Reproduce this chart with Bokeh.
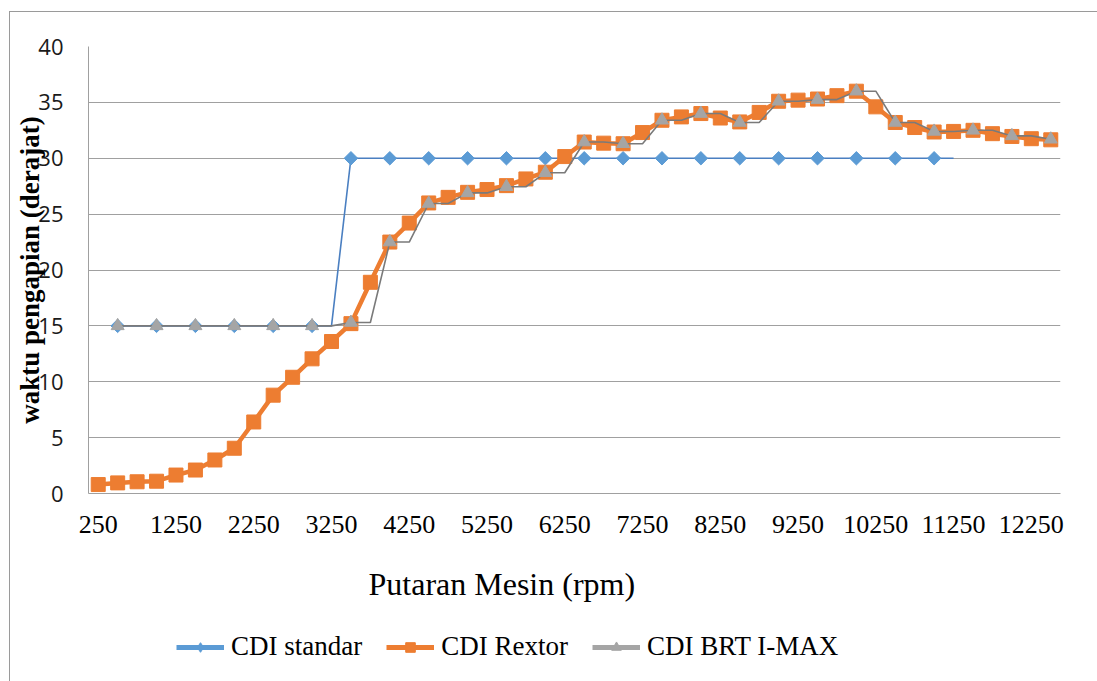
import math
from bokeh.plotting import figure
from bokeh.layouts import column
from bokeh.models import Range1d, FixedTicker, Legend, LegendItem, Title
from bokeh.embed import file_html
from bokeh.resources import INLINE

NaN = float("nan")

# categories (engine speed, rpm)
rpm = [250, 500, 750, 1000, 1250, 1500, 1750, 2000, 2250, 2500,
       2750, 3000, 3250, 3500, 3750, 4000, 4250, 4500, 4750, 5000,
       5250, 5500, 5750, 6000, 6250, 6500, 6750, 7000, 7250, 7500,
       7750, 8000, 8250, 8500, 8750, 9000, 9250, 9500, 9750, 10000,
       10250, 10500, 10750, 11000, 11250, 11500, 11750, 12000, 12250, 12500]

# tick labels shown on the category axis (every 4th category)
tick_labels = ["250", "1250", "2250", "3250", "4250", "5250", "6250",
               "7250", "8250", "9250", "10250", "11250", "12250"]

# ignition timing (degrees)
cdi_standar = [NaN, 15, 15, 15, 15, 15, 15, 15, 15, 15,
               15, 15, 15, 30, 30, 30, 30, 30, 30, 30,
               30, 30, 30, 30, 30, 30, 30, 30, 30, 30,
               30, 30, 30, 30, 30, 30, 30, 30, 30, 30,
               30, 30, 30, 30, 30, NaN, NaN, NaN, NaN, NaN]

cdi_rextor = [0.8, 0.95, 1.05, 1.1, 1.65, 2.1, 3.0, 4.05, 6.4, 8.8,
              10.4, 12.05, 13.6, 15.2, 18.9, 22.5, 24.2, 26.0, 26.5, 26.95,
              27.2, 27.55, 28.15, 28.75, 30.15, 31.45, 31.35, 31.3, 32.3, 33.4,
              33.7, 34.0, 33.6, 33.25, 34.1, 35.1, 35.2, 35.3, 35.6, 36.0,
              34.6, 33.2, 32.75, 32.35, 32.4, 32.5, 32.2, 31.95, 31.75, 31.65]

cdi_brt = [NaN, 15, 15, 15, 15, 15, 15, 15, 15, 15,
           15, 15, 15, 15.3, 15.3, 22.5, 22.5, 25.95, 25.95, 26.9,
           26.9, 27.45, 27.45, 28.7, 28.7, 31.45, 31.45, 31.3, 31.3, 33.4,
           33.4, 34.0, 34.0, 33.2, 33.2, 35.1, 35.1, 35.25, 35.25, 36.0,
           36.0, 33.2, 33.2, 32.4, 32.4, 32.5, 32.5, 32.0, 32.0, 31.7]

BLUE_LINE = "#4a7fc1"
BLUE = "#5b9bd5"
ORANGE = "#ed7d31"
GRAY = "#a5a5a5"
GRAY_LINE = "#7a7a7a"
GRID = "#a0a0a0"

pos = list(range(len(rpm)))
tick_pos = [rpm.index(int(t)) for t in tick_labels]

p = figure(width=1087, height=620, output_backend="svg", toolbar_location=None,
           x_range=Range1d(-0.5, len(rpm) - 0.5), y_range=Range1d(0, 40),
           min_border_left=78, min_border_right=37, min_border_top=34,
           min_border_bottom=139)
p.outline_line_color = None
p.background_fill_color = "white"
p.border_fill_color = "white"

# axes
p.xaxis.ticker = FixedTicker(ticks=tick_pos)
p.xaxis.major_label_overrides = {i: t for i, t in zip(tick_pos, tick_labels)}
p.xaxis.major_label_text_font = "Liberation Serif"
p.xaxis.major_label_text_font_size = "26px"
p.xaxis.major_label_text_color = "black"
p.xaxis.major_label_standoff = 16
p.xaxis.major_tick_line_color = None
p.xaxis.minor_tick_line_color = None
p.xaxis.axis_line_color = GRID

p.yaxis.ticker = FixedTicker(ticks=[0, 5, 10, 15, 20, 25, 30, 35, 40])
p.yaxis.major_label_text_font = "Open Sans"
p.yaxis.major_label_text_font_size = "22px"
p.yaxis.major_label_text_color = "#1a1a1a"
p.yaxis.major_label_standoff = 19
p.yaxis.major_tick_line_color = None
p.yaxis.minor_tick_line_color = None
p.yaxis.axis_line_color = GRID
p.yaxis.axis_label = "waktu pengapian (derajat)"
p.yaxis.axis_label_text_font = "Liberation Serif"
p.yaxis.axis_label_text_font_style = "bold"
p.yaxis.axis_label_text_font_size = "27px"
p.yaxis.axis_label_text_color = "black"
p.yaxis.axis_label_standoff = -10

p.xgrid.grid_line_color = None
p.ygrid.ticker = FixedTicker(ticks=[5, 10, 15, 20, 25, 30, 35, 40])
p.ygrid.grid_line_color = GRID
p.ygrid.grid_line_width = 1

# series
p.line(pos, cdi_standar, line_color=BLUE_LINE, line_width=1.6)
p.scatter(pos[1::2], cdi_standar[1::2], marker="square", angle=math.pi / 4,
          size=9.5, fill_color=BLUE, line_color=BLUE)

p.line(pos, cdi_rextor, line_color=ORANGE, line_width=4.5)
p.scatter(pos, cdi_rextor, marker="square", size=14, fill_color=ORANGE, line_color=ORANGE)

p.line(pos, cdi_brt, line_color=GRAY_LINE, line_width=1.6)
p.scatter(pos[1::2], cdi_brt[1::2], marker="triangle", size=13, fill_color=GRAY, line_color=GRAY)

xtitle = Title(text="Putaran Mesin  (rpm)", align="left", offset=280,
               text_font="Liberation Serif", text_font_size="32px",
               text_font_style="normal", text_color="black", standoff=57)
p.add_layout(xtitle, "below")

# legend strip below the chart
p2 = figure(width=1087, height=49, output_backend="svg", toolbar_location=None,
            x_range=Range1d(0, 1), y_range=Range1d(0, 1),
            x_axis_type=None, y_axis_type=None,
            min_border_left=0, min_border_right=0, min_border_top=0, min_border_bottom=0)
p2.outline_line_color = None
p2.grid.visible = False
p2.background_fill_color = "white"
p2.border_fill_color = "white"

lb1 = p2.line([NaN], [NaN], line_color=BLUE, line_width=5)
lb2 = p2.scatter([NaN], [NaN], marker="diamond", size=15, fill_color=BLUE, line_color=BLUE)
lo1 = p2.line([NaN], [NaN], line_color=ORANGE, line_width=5)
lo2 = p2.scatter([NaN], [NaN], marker="square", size=14, fill_color=ORANGE, line_color=ORANGE)
lg1 = p2.line([NaN], [NaN], line_color=GRAY, line_width=5)
lg2 = p2.scatter([NaN], [NaN], marker="triangle", size=15, fill_color=GRAY, line_color=GRAY)

legend = Legend(items=[LegendItem(label="CDI standar", renderers=[lb1, lb2]),
                       LegendItem(label="CDI Rextor", renderers=[lo1, lo2]),
                       LegendItem(label="CDI BRT I-MAX", renderers=[lg1, lg2])],
                orientation="horizontal", location=(88, 19),
                label_text_font="Liberation Serif", label_text_font_size="27px",
                label_text_color="black", glyph_width=48, glyph_height=24,
                label_standoff=7, spacing=24, padding=0, margin=0,
                border_line_color=None, background_fill_alpha=0)
p2.add_layout(legend, "center")

layout = column(p, p2, spacing=0,
                styles={"margin-left": "9px", "margin-top": "11px",
                        "border-left": "1px solid #9a9a9a",
                        "border-top": "1px solid #9a9a9a"})

open("out.html", "w").write(file_html(layout, INLINE))
